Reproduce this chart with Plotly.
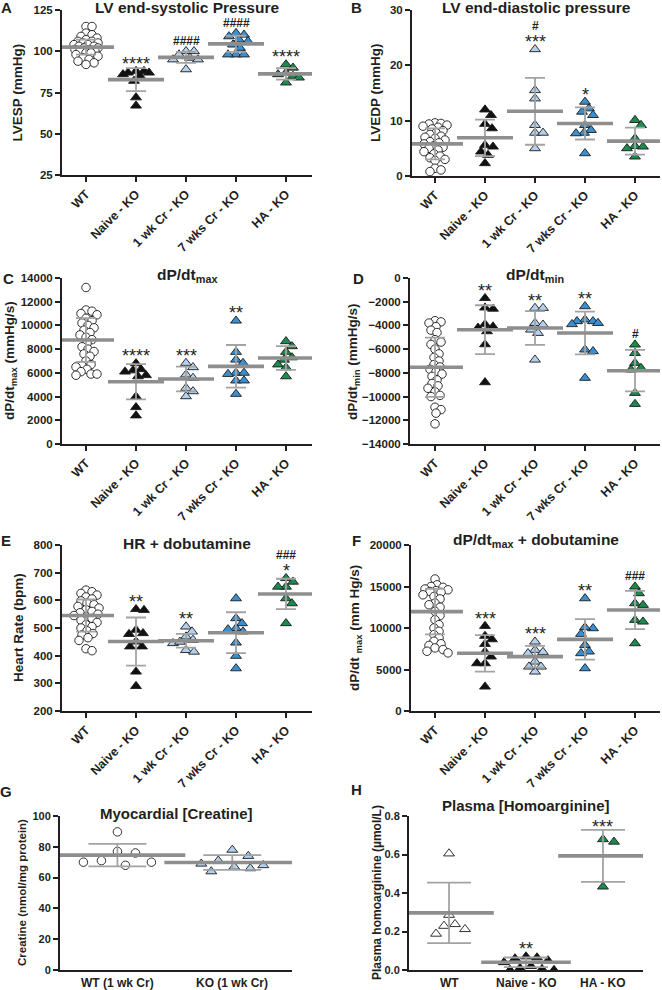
import numpy as np
import plotly.graph_objects as go

W, H = 662, 990

# ---------------- categories ----------------
CATS = ["WT", "Naive - KO", "1 wk Cr - KO", "7 wks Cr - KO", "HA - KO"]
CATS_G = ["WT (1 wk Cr)", "KO (1 wk Cr)"]
CATS_H = ["WT", "Naive - KO", "HA - KO"]

# ---------------- A: LV end-systolic pressure (mmHg) ----------------
A_WT = [115, 115, 111, 110, 109, 108, 107, 106, 106, 105, 105, 104, 104, 103, 103,
        102, 102, 101, 101, 100, 100, 99, 99, 98, 97, 96, 95, 94, 93, 92]
A_NAIVE = [88, 88, 87, 87, 86, 85, 82, 72, 67]
A_CR1 = [100, 100, 98, 96, 95, 95, 89]
A_CR7 = [111, 110, 109, 107, 106, 104, 102, 98, 98, 98]
A_HA = [92, 90, 87, 86, 85, 84, 81]
A_MEAN = [102.5, 82.8, 96.3, 104.5, 86.3]
A_SD = [4.5, 7.0, 3.3, 4.9, 3.5]
A_SIG = ["", "****", "####", "####", "****"]

# ---------------- B: LV end-diastolic pressure (mmHg) ----------------
B_WT = [9.6, 9.5, 9.4, 9.2, 9.0, 8.8, 8.5, 8.2, 7.8, 7.5, 7.2, 7.0, 6.8, 6.5, 6.2,
        6.0, 5.8, 5.5, 5.2, 5.0, 4.7, 4.4, 4.0, 3.6, 3.3, 3.0, 2.8, 1.4, 1.1, 0.8]
B_NAIVE = [12.0, 11.0, 9.4, 8.6, 5.6, 5.3, 4.4, 3.8, 2.3]
B_CR1 = [22.9, 15.5, 14.0, 9.2, 7.8, 7.8, 5.0]
B_CR7 = [13.4, 12.2, 11.6, 11.0, 9.2, 8.3, 7.8, 7.7, 4.1]
B_HA = [10.1, 9.2, 6.8, 5.4, 5.3, 5.0, 3.5]
B_MEAN = [5.8, 6.9, 11.7, 9.5, 6.3]
B_SD = [2.8, 3.3, 6.05, 2.9, 2.45]
B_SIG = ["", "", "#<br>***", "*", ""]

# ---------------- C: dP/dt max (mmHg/s) ----------------
C_WT = [13200, 11300, 11200, 11000, 10900, 10600, 10400, 10200, 10000, 9800, 9600,
        9400, 9200, 9000, 8800, 8500, 8200, 8000, 7800, 7600, 7400, 7000, 6700, 6600,
        6500, 6300, 6100, 5900, 5800, 5900]
C_NAIVE = [6800, 6300, 6200, 6100, 5800, 5700, 4000, 3100, 2400]
C_CR1 = [6830, 6470, 5850, 5570, 4720, 4440, 4020]
C_CR7 = [10400, 7760, 7110, 6830, 6000, 6000, 5900, 5350, 5350, 4220]
C_HA = [8660, 8240, 7760, 7300, 7100, 6700, 6450, 5700]
C_MEAN = [8770, 5250, 5480, 6550, 7250]
C_SD = [1850, 1480, 1050, 1800, 1000]
C_SIG = ["", "****", "***", "**", ""]

# ---------------- D: dP/dt min (mmHg/s) ----------------
D_WT = [-3600, -3700, -3800, -4100, -4400, -4600, -5200, -5400, -5600, -6000, -6400,
        -6700, -7000, -7300, -7500, -7700, -7900, -8100, -8300, -8600, -8900, -9100,
        -9300, -9600, -9900, -10000, -10900, -11100, -11400, -12300]
D_NAIVE = [-1700, -2500, -2600, -3900, -4100, -4200, -4500, -5600, -8800]
D_CR1 = [-2530, -2530, -3800, -3940, -4360, -4640, -6890]
D_CR7 = [-2390, -3510, -3650, -3800, -3650, -3900, -6040, -6180, -8430]
D_HA = [-5620, -6330, -7170, -7590, -7730, -9700, -10630]
D_MEAN = [-7530, -4360, -4220, -4640, -7820]
D_SD = [2500, 2060, 1420, 1800, 1750]
D_SIG = ["", "**", "**", "**", "#"]

# ---------------- E: HR + dobutamine (bpm) ----------------
E_WT = [637, 631, 625, 619, 612, 605, 598, 590, 584, 578, 572, 566, 560, 555, 550,
        545, 540, 535, 528, 520, 512, 505, 500, 490, 480, 475, 465, 455, 425, 418]
E_NAIVE = [565, 568, 481, 478, 493, 433, 433, 451, 342, 290]
E_CR1 = [505, 487, 469, 457, 445, 420, 414, 450]
E_CR7 = [607, 535, 517, 499, 495, 487, 447, 399, 354]
E_HA = [680, 667, 649, 649, 607, 589, 517]
E_MEAN = [545, 451, 454, 483, 623]
E_SD = [58, 87, 25, 74, 55]
E_SIG = ["", "**", "**", "", "###<br>*"]

# ---------------- F: dP/dt max + dobutamine (mm Hg/s) ----------------
F_WT = [15900, 15200, 15000, 14900, 14700, 14600, 14500, 14400, 14300, 14000, 13800,
        13500, 13000, 12800, 12500, 12000, 11500, 11000, 10400, 10000, 9600, 9200,
        8800, 8400, 8100, 7900, 7600, 7400, 7200, 7000]
F_NAIVE = [10240, 9040, 8070, 8630, 7150, 5740, 5740, 6550, 2930]
F_CR1 = [8350, 7350, 7100, 6950, 5940, 5340, 4740, 5340]
F_CR7 = [13570, 9960, 10080, 9280, 7950, 7150, 6950, 5140]
F_HA = [14980, 14180, 12970, 12770, 10960, 10760, 8150]
F_MEAN = [11970, 6950, 6550, 8630, 12170]
F_SD = [2750, 2200, 1300, 2450, 2300]
F_SIG = ["", "***", "***", "**", "###"]

# ---------------- G: Myocardial creatine (nmol/mg protein) ----------------
G_WT = [89.7, 77, 76, 71, 70, 70, 68]
G_KO = [78, 74, 71, 69, 68, 67, 66, 64]
G_MEAN = [74.6, 69.8]
G_SD = [7.3, 4.8]
G_SIG = ["", ""]

# ---------------- H: Plasma homoarginine (umol/L) ----------------
H_WT = [0.605, 0.286, 0.229, 0.188, 0.212, 0.238]
H_NAIVE = [0.07, 0.065, 0.06, 0.05, 0.04, 0.02, 0.01, 0.0, 0.0, 0.005]
H_HA = [0.679, 0.666, 0.433]
H_MEAN = [0.297, 0.04, 0.593]
H_SD = [0.157, 0.025, 0.135]
H_SIG = ["", "**", "***"]

# ---------------- styles ----------------
TXT = "#231f20"
WHITE_C = dict(symbol="circle", color="white", size=8.5)
WHITE_T = dict(symbol="triangle-up", color="white", size=9.5)
BLACK_T = dict(symbol="triangle-up", color="#111111", size=9.5)
LBLUE_T = dict(symbol="triangle-up", color="#b3d1ee", size=9.5)
BLUE_T = dict(symbol="triangle-up", color="#3b8fd0", size=9.5)
GREEN_T = dict(symbol="triangle-up", color="#1b8a4c", size=9.5)
STY5 = [WHITE_C, BLACK_T, LBLUE_T, BLUE_T, GREEN_T]

PANELS = [
    dict(letter="A", cats=CATS, groups=[A_WT, A_NAIVE, A_CR1, A_CR7, A_HA], mean=A_MEAN, sd=A_SD,
         sig=A_SIG, sty=STY5, title="LV end-systolic Pressure", ytitle="LVESP (mmHg)",
         box=(62, 312, 10, 175), xr=(-0.48, 4.52), yr=(25, 125), dtick=25, tang=-45, fmt="d",
         tpos=7, lpos=(6, 7), ytx=17, cap=10, mlen=40, yts=13.5, tsz=15.5, xts=12.5, yks=11.5,
         sw=(5.5, 12, 7.5, 13)),
    dict(letter="B", cats=CATS, groups=[B_WT, B_NAIVE, B_CR1, B_CR7, B_HA], mean=B_MEAN, sd=B_SD,
         sig=B_SIG, sty=STY5, title="LV end-diastolic pressure", ytitle="LVEDP (mmHg)",
         box=(412, 660, 10, 176), xr=(-0.46, 4.5), yr=(0, 30), dtick=10, tang=-45, fmt="d",
         tpos=7, lpos=(356, 7), ytx=375, cap=10, mlen=40, yts=13.5, tsz=15.5, xts=12.5, yks=11.5,
         sw=(5.5, 12, 7.5, 13)),
    dict(letter="C", cats=CATS, groups=[C_WT, C_NAIVE, C_CR1, C_CR7, C_HA], mean=C_MEAN, sd=C_SD,
         sig=C_SIG, sty=STY5, title="dP/dt<sub>max</sub>", ytitle="dP/dt<sub>max</sub> (mmHg/s)",
         box=(62, 312, 278, 444), xr=(-0.48, 4.52), yr=(0, 14000), dtick=2000, tang=-45, fmt="d",
         tpos=275, lpos=(8, 279), ytx=10, cap=10, mlen=40, yts=13.5, tsz=15.5, xts=12.5, yks=11.5,
         sw=(6, 13, 7.5, 13)),
    dict(letter="D", cats=CATS, groups=[D_WT, D_NAIVE, D_CR1, D_CR7, D_HA], mean=D_MEAN, sd=D_SD,
         sig=D_SIG, sty=STY5, title="dP/dt<sub>min</sub>", ytitle="dP/dt<sub>min</sub> (mmHg/s)",
         box=(410, 660, 278, 444), xr=(-0.5, 4.5), yr=(-14000, 0), dtick=2000, tang=-45, fmt="d",
         tpos=275, lpos=(358, 279), ytx=353, cap=10, mlen=40, yts=13.5, tsz=15.5, xts=12.5, yks=11.5,
         sw=(6, 13, 7.5, 13)),
    dict(letter="E", cats=CATS, groups=[E_WT, E_NAIVE, E_CR1, E_CR7, E_HA], mean=E_MEAN, sd=E_SD,
         sig=E_SIG, sty=STY5, title="HR + dobutamine", ytitle="Heart Rate (bpm)",
         box=(62, 312, 545, 711), xr=(-0.48, 4.52), yr=(200, 800), dtick=100, tang=-45, fmt="d",
         tpos=543, lpos=(6, 540), ytx=18, cap=10, mlen=40, yts=13.5, tsz=15.5, xts=12.5, yks=11.5,
         sw=(6, 13, 7.5, 13)),
    dict(letter="F", cats=CATS, groups=[F_WT, F_NAIVE, F_CR1, F_CR7, F_HA], mean=F_MEAN, sd=F_SD,
         sig=F_SIG, sty=STY5, title="dP/dt<sub>max</sub> + dobutamine",
         ytitle="dP/dt <sub>max</sub> (mm Hg/s)",
         box=(411, 660, 545, 711), xr=(-0.48, 4.5), yr=(0, 20000), dtick=5000, tang=-45, fmt="d",
         tpos=540, lpos=(356, 540), ytx=355, cap=10, mlen=40, yts=13.5, tsz=15.5, xts=12.5, yks=11.5,
         sw=(6, 13, 7.5, 13)),
    dict(letter="G", cats=CATS_G, groups=[G_WT, G_KO], mean=G_MEAN, sd=G_SD,
         sig=G_SIG, sty=[WHITE_C, LBLUE_T], title="Myocardial [Creatine]",
         ytitle="Creatine (nmol/mg protein)",
         box=(60, 292, 816, 970), xr=(-0.5, 1.52), yr=(0, 100), dtick=20, tang=0, fmt="d",
         tpos=813, lpos=(6, 791), ytx=22, cap=29, mlen=97, yts=11.5, tsz=15, xts=12, yks=11,
         sw=(18, 36, 17, 36)),
    dict(letter="H", cats=CATS_H, groups=[H_WT, H_NAIVE, H_HA], mean=H_MEAN, sd=H_SD,
         sig=H_SIG, sty=[WHITE_T, BLACK_T, GREEN_T], title="Plasma [Homoarginine]",
         ytitle="Plasma homoarginine (\u00b5mol/L)",
         box=(409, 643, 816, 970), xr=(-0.52, 2.52), yr=(0, 0.8), dtick=0.2, tang=0, fmt=".1f",
         tpos=805, lpos=(356, 789), ytx=377, cap=22, mlen=64, yts=12, tsz=15, xts=12, yks=11,
         sw=(11, 28, 11, 28)),
]


def swarm(vals, py_per_unit, px_per_cat, diam, maxhalf):
    """Deterministic beeswarm offsets (in category units)."""
    order = sorted(range(len(vals)), key=lambda i: -vals[i])
    cands = [0]
    for k in range(1, int(maxhalf) + 1):
        cands += [k, -k]
    placed = []
    offs = [0.0] * len(vals)
    for i in order:
        y = vals[i] * py_per_unit
        best, fb, fbd = None, 0, -1
        for c in cands:
            d = min([np.hypot(c - px, y - py) for px, py in placed], default=1e9)
            if d >= diam:
                best = c
                break
            if d > fbd:
                fbd, fb = d, c
        if best is None:
            best = fb
        placed.append((best, y))
        offs[i] = best / px_per_cat
    return offs


fig = go.Figure()
annotations = []
layout = {}

for n, p in enumerate(PANELS, start=1):
    xa = "x" if n == 1 else f"x{n}"
    ya = "y" if n == 1 else f"y{n}"
    x0, x1, y0, y1 = p["box"]
    hpx = y1 - y0
    py_per_unit = hpx / (p["yr"][1] - p["yr"][0])
    px_per_cat = (x1 - x0) / (p["xr"][1] - p["xr"][0])
    cd, cm, td, tm = p["sw"]
    rotated = p["tang"] != 0

    def ypx(v):
        return y1 - (v - p["yr"][0]) * py_per_unit

    for gi, (vals, sty) in enumerate(zip(p["groups"], p["sty"])):
        circ = sty["symbol"] == "circle"
        offs = swarm(vals, py_per_unit, px_per_cat,
                     diam=(cd if circ else td), maxhalf=(cm if circ else tm))
        fig.add_trace(go.Scatter(
            x=[gi + o for o in offs], y=vals, mode="markers", xaxis=xa, yaxis=ya,
            showlegend=False, hoverinfo="skip",
            marker=dict(symbol=sty["symbol"], size=sty["size"], color=sty["color"],
                        line=dict(color="#1a1a1a", width=0.9))))

    idx = list(range(len(p["cats"])))
    fig.add_trace(go.Scatter(
        x=idx, y=p["mean"], mode="markers", xaxis=xa, yaxis=ya, showlegend=False,
        hoverinfo="skip",
        marker=dict(symbol="line-ew", size=p["mlen"], color="#8e8e8e",
                    line=dict(color="#8e8e8e", width=3.6)),
        error_y=dict(type="data", array=p["sd"], color="#a3a3a3", thickness=1.8,
                     width=p["cap"])))

    # significance marks: stacked just above the highest point / error-bar cap
    for gi, s in enumerate(p["sig"]):
        if not s:
            continue
        vpt = max(p["groups"][gi])
        vcap = p["mean"][gi] + p["sd"][gi]
        target = min(ypx(vpt) - 10, ypx(vcap) - 6)
        for k, line in enumerate(s.split("<br>")[::-1]):
            centre = target - 13.5 * k
            if line.startswith("#"):
                txt, fsz, off = f"<b>{line}</b>", 12, 8.8
            else:
                txt, fsz, off = line, 18, 14.75
            annotations.append(dict(
                x=gi, y=vpt, xref=xa, yref=ya, text=txt, showarrow=False,
                yanchor="bottom", yshift=ypx(vpt) - (centre + off),
                font=dict(size=fsz, color=TXT)))

    # axes
    xkey = "xaxis" if n == 1 else f"xaxis{n}"
    ykey = "yaxis" if n == 1 else f"yaxis{n}"
    layout[xkey] = dict(
        domain=[x0 / W, x1 / W], range=list(p["xr"]), anchor=ya, tickmode="array",
        tickvals=idx, ticktext=p["cats"], tickangle=p["tang"], showgrid=False,
        zeroline=False, showline=True, linecolor=TXT, linewidth=2,
        ticks=("outside" if rotated else ""), showticklabels=rotated,
        ticklen=5, tickwidth=2, tickcolor=TXT, automargin=False,
        tickfont=dict(size=p["xts"], color=TXT, weight="bold"))
    layout[ykey] = dict(
        domain=[1 - y1 / H, 1 - y0 / H], range=list(p["yr"]), anchor=xa, dtick=p["dtick"],
        tick0=0, tickformat=p["fmt"], exponentformat="none", showgrid=False, zeroline=False,
        showline=True, linecolor=TXT, linewidth=2, ticks="outside", ticklen=5, tickwidth=2,
        tickcolor=TXT, automargin=False,
        tickfont=dict(size=p["yks"], color=TXT, weight="bold"))

    # horizontal category labels (G, H) as text under the axis
    if not rotated:
        for gi, c in enumerate(p["cats"]):
            annotations.append(dict(
                x=gi, y=1 - (y1 + 13) / H, xref=xa, yref="paper", text=f"<b>{c}</b>",
                showarrow=False, xanchor="center", yanchor="middle",
                font=dict(size=p["xts"], color=TXT)))

    # y-axis title
    annotations.append(dict(
        x=p["ytx"] / W, y=1 - (y0 + y1) / 2 / H, xref="paper", yref="paper",
        text=f"<b>{p['ytitle']}</b>", textangle=-90, showarrow=False,
        xanchor="center", yanchor="middle", font=dict(size=p["yts"], color=TXT)))
    # panel title
    annotations.append(dict(
        x=(x0 + x1) / 2 / W, y=1 - p["tpos"] / H, xref="paper", yref="paper",
        text=f"<b>{p['title']}</b>", showarrow=False, yanchor="middle", xanchor="center",
        font=dict(size=p["tsz"], color=TXT)))
    # panel letter
    annotations.append(dict(
        x=p["lpos"][0] / W, y=1 - p["lpos"][1] / H, xref="paper", yref="paper",
        text=f"<b>{p['letter']}</b>", showarrow=False, xanchor="center", yanchor="middle",
        font=dict(size=15, color=TXT)))

fig.update_layout(
    width=W, height=H, template="none", paper_bgcolor="white", plot_bgcolor="white",
    margin=dict(l=0, r=0, t=0, b=0),
    font=dict(family="Liberation Sans, Arial, sans-serif", color=TXT),
    annotations=annotations, **layout)

fig.write_html("out.html", config={"displayModeBar": False},
               post_script="document.body.style.margin='0';document.body.style.padding='0';")
